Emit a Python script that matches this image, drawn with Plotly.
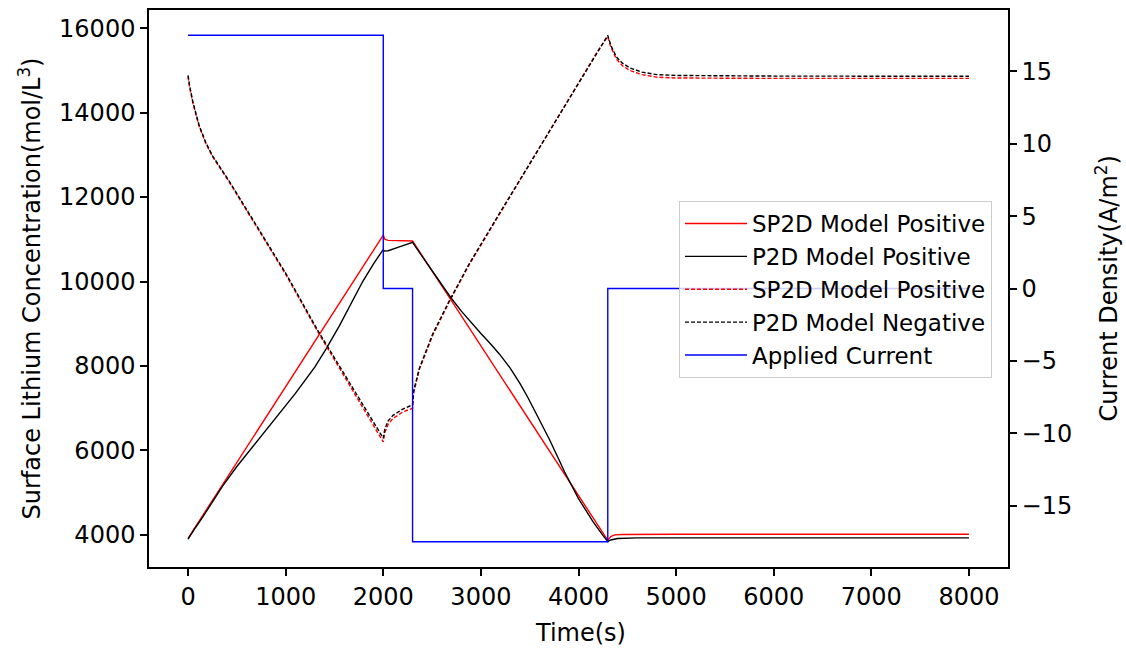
import plotly.graph_objects as go
from plotly.subplots import make_subplots

# ---- data ----
t_sp2d_pos = [0, 2000, 2015, 2050, 2300, 4300, 4330, 4370, 4450, 5000, 8000]
c_sp2d_pos = [3920, 11100, 11000, 10975, 10960, 3870, 3960, 4000, 4010, 4015, 4015]

t_p2d_pos = [0, 25, 75, 150, 250, 352, 500, 700, 900, 1100, 1300, 1413, 1550, 1700, 1789, 1900, 2000,
             2010, 2050, 2150, 2300, 2400, 2500, 2600, 2695, 2800, 2900, 3000, 3100, 3191, 3300, 3400,
             3480, 3600, 3700, 3800, 3858, 4000, 4150, 4250, 4300, 4330, 4400, 4600, 8000]
c_p2d_pos = [3900, 4000, 4170, 4420, 4780, 5150, 5620, 6200, 6780, 7350, 7980, 8400, 8950, 9600, 10000, 10420, 10760,
             10720, 10730, 10810, 10930, 10590, 10255, 9925, 9610, 9300, 9030, 8770, 8520, 8280, 7950, 7590,
             7260, 6740, 6270, 5780, 5490, 4860, 4310, 3990, 3840, 3880, 3915, 3930, 3930]

t_sp2d_neg = [0, 15, 50, 113, 180, 250, 421, 523, 700, 1000, 1327, 1600, 1800, 1950, 2000,
              2015, 2050, 2100, 2200, 2300, 2310, 2370, 2507, 2678, 2883, 3200, 3500, 3800, 4000, 4200, 4300,
              4330, 4388, 4450, 4525, 4650, 4800, 5000, 6000, 8000]
c_sp2d_neg = [14850, 14620, 14220, 13680, 13280, 12960, 12360, 11980, 11300, 10170, 8820, 7760, 6990, 6400, 6200,
              6420, 6620, 6760, 6910, 7000, 7350, 7920, 8730, 9530, 10410, 11630, 12780, 13940, 14700, 15470, 15800,
              15560, 15270, 15110, 15000, 14900, 14840, 14820, 14810, 14810]

t_p2d_neg = [0, 15, 50, 113, 180, 250, 421, 523, 700, 1000, 1327, 1600, 1800, 1950, 2000,
             2015, 2050, 2100, 2200, 2300, 2310, 2370, 2507, 2678, 2883, 3200, 3500, 3800, 4000, 4200, 4300,
             4330, 4388, 4450, 4525, 4650, 4800, 5000, 6000, 8000]
c_p2d_neg = [14880, 14650, 14250, 13700, 13300, 12980, 12380, 12000, 11330, 10200, 8850, 7800, 7050, 6480, 6290,
             6500, 6700, 6830, 6980, 7080, 7400, 7950, 8760, 9550, 10430, 11650, 12790, 13950, 14700, 15470, 15830,
             15600, 15320, 15170, 15060, 14960, 14900, 14880, 14865, 14860]

t_current = [0, 2000, 2000, 2300, 2300, 4300, 4300, 8000]
i_current = [17.5, 17.5, 0, 0, -17.5, -17.5, 0, 0]

x_ticks = [0, 1000, 2000, 3000, 4000, 5000, 6000, 7000, 8000]
y_ticks = [4000, 6000, 8000, 10000, 12000, 14000, 16000]
y2_ticks = [-15, -10, -5, 0, 5, 10, 15]

FONT = "DejaVu Sans"

fig = make_subplots(specs=[[{"secondary_y": True}]])

fig.add_trace(go.Scatter(x=t_sp2d_pos, y=c_sp2d_pos, mode="lines", name="SP2D Model Positive",
                         line=dict(color="red", width=1.4)), secondary_y=False)
fig.add_trace(go.Scatter(x=t_p2d_pos, y=c_p2d_pos, mode="lines", name="P2D Model Positive",
                         line=dict(color="black", width=1.4)), secondary_y=False)
fig.add_trace(go.Scatter(x=t_sp2d_neg, y=c_sp2d_neg, mode="lines", name="SP2D Model Positive",
                         line=dict(color="red", width=1.4, dash="4px,2px")), secondary_y=False)
fig.add_trace(go.Scatter(x=t_p2d_neg, y=c_p2d_neg, mode="lines", name="P2D Model Negative",
                         line=dict(color="black", width=1.4, dash="4px,2px")), secondary_y=False)
fig.add_trace(go.Scatter(x=t_current, y=i_current, mode="lines", name="Applied Current",
                         line=dict(color="blue", width=1.4)), secondary_y=True)

L, R, T, B = 149, 118, 10, 83
W, H = 1126, 650
pw = W - L - R
ph = H - T - B

fig.update_layout(
    width=W, height=H,
    margin=dict(l=L, r=R, t=T, b=B, autoexpand=False),
    paper_bgcolor="white", plot_bgcolor="white",
    font=dict(family=FONT, size=24, color="black"),
    showlegend=True,
    legend=dict(x=(679 - L) / pw, y=(H - B - 201) / ph, xanchor="left", yanchor="top",
                bgcolor="rgba(255,255,255,0.8)", bordercolor="#cccccc", borderwidth=1,
                itemwidth=62,
                font=dict(family=FONT, size=23, color="black"), tracegroupgap=0),
)

axis_common = dict(showgrid=False, zeroline=False, showline=True, linecolor="black", linewidth=1.5,
                   ticks="outside", ticklen=7, tickwidth=1.5, tickcolor="black",
                   tickfont=dict(family=FONT, size=24, color="black"))

fig.update_xaxes(range=[-400, 8400], domain=[0, 1], tickvals=x_ticks, ticktext=[str(v) for v in x_ticks],
                 mirror=True, **axis_common)
fig.update_yaxes(range=[3240, 16430], tickvals=y_ticks, ticktext=[str(v) for v in y_ticks],
                 mirror=True, secondary_y=False, **axis_common)
fig.update_yaxes(range=[-19.25, 19.25], tickvals=y2_ticks,
                 ticktext=[str(v).replace("-", "\u2212") for v in y2_ticks],
                 secondary_y=True, **axis_common)

fig.add_annotation(text="Time(s)", xref="paper", yref="paper", x=(580 - L) / pw, y=(H - B - 633) / ph,
                   showarrow=False, font=dict(family=FONT, size=24, color="black"),
                   xanchor="center", yanchor="middle")
fig.add_annotation(text="Surface Lithium Concentration(mol/L<sup>3</sup>)", xref="paper", yref="paper",
                   x=(29 - L) / pw, y=0.5, textangle=-90, showarrow=False,
                   font=dict(family=FONT, size=24, color="black"), xanchor="center", yanchor="middle")
fig.add_annotation(text="Current Density(A/m<sup>2</sup>)", xref="paper", yref="paper",
                   x=(1106 - L) / pw, y=0.5, textangle=-90, showarrow=False,
                   font=dict(family=FONT, size=24, color="black"), xanchor="center", yanchor="middle")

fig.write_html("out.html")
